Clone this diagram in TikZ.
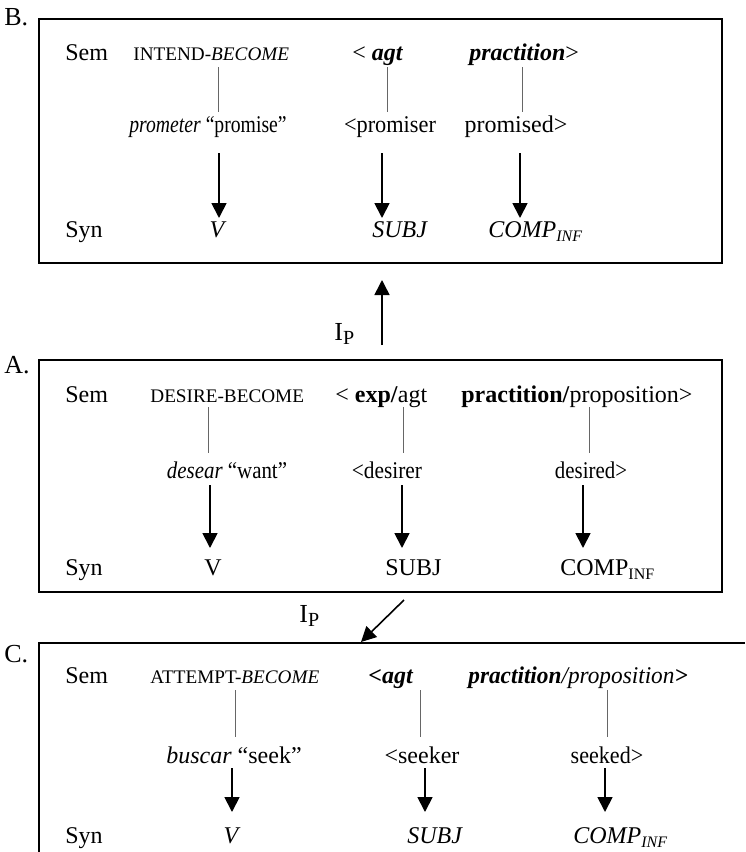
\documentclass[tikz,border=0pt]{standalone}
\usepackage{fontspec}
\setmainfont{Liberation Serif}
\usetikzlibrary{arrows.meta}
% reduced capitals standing in for small caps
\newcommand\smcap[1]{{\fontsize{9.6pt}{11pt}\selectfont #1}}
% lowered, smaller subscript text
\newcommand\lowsub[1]{\raisebox{-0.4ex}{\fontsize{8pt}{9pt}\selectfont #1}}
% horizontally condensed text
\newcommand\narrow[2]{\scalebox{#1}[1]{#2}}
\begin{document}
\begin{tikzpicture}[x=0.5pt,y=-0.5pt,
  txt/.style={inner sep=0pt, anchor=base west, font=\fontsize{12pt}{14pt}\selectfont},
  ctxt/.style={txt, anchor=base},
  lbl/.style={txt, font=\fontsize{13pt}{15pt}\selectfont},
  iplbl/.style={txt, font=\fontsize{13pt}{15pt}\selectfont},
  frame/.style={line width=1pt},
  link/.style={line width=0.5pt, draw=black!60},
  dep/.style={line width=0.9pt, -{Triangle[length=7.5pt,width=7.5pt]}},
  ip/.style={line width=0.8pt, -{Triangle[length=7.5pt,width=7.5pt]}},
]
\useasboundingbox (0,0) rectangle (745,852);

% ---------- frames ----------
\draw[frame] (39,19) rectangle (722,263);
\draw[frame] (39,360) rectangle (722,592);
\draw[frame] (745,643) -- (39,643) -- (39,852);

\node[lbl] (labB) at (4,25) {B.};
\node[lbl] (labA) at (4,373) {A.};
\node[lbl] (labC) at (4,662) {C.};

% ---------- box B ----------
\node[txt] (semB) at (65,60) {Sem};
\node[txt] (synB) at (65,237) {Syn};
\node[txt] (bS1) at (133,60) {\smcap{INTEND-\textit{BECOME}}};
\node[txt] (bS2) at (352,60) {< \textbf{\textit{agt}}};
\node[txt] (bS3) at (469,60) {\textbf{\textit{practition}}>};
\node[ctxt] (bM1) at (208,132) {\narrow{0.82}{\textit{prometer} “promise”}};
\node[ctxt] (bM2) at (390,132) {\narrow{0.93}{<promiser}};
\node[ctxt] (bM3) at (516,132) {promised>};
\node[ctxt] (bY1) at (218,237) {\textit{V}};
\node[txt] (bY2) at (372,237) {\textit{SUBJ}};
\node[txt] (bY3) at (488,237) {\textit{COMP\lowsub{INF}}};

\coordinate (bl1a) at (218,67);  \coordinate (bl1b) at (218,112);
\coordinate (bl2a) at (387,67);  \coordinate (bl2b) at (387,112);
\coordinate (bl3a) at (522,67);  \coordinate (bl3b) at (522,112);
\coordinate (ba1a) at (219,153); \coordinate (ba1b) at (219,218);
\coordinate (ba2a) at (382,153); \coordinate (ba2b) at (382,218);
\coordinate (ba3a) at (520,153); \coordinate (ba3b) at (520,218);
\draw[link] (bl1a) -- (bl1b);
\draw[link] (bl2a) -- (bl2b);
\draw[link] (bl3a) -- (bl3b);
\draw[dep] (ba1a) -- (ba1b);
\draw[dep] (ba2a) -- (ba2b);
\draw[dep] (ba3a) -- (ba3b);

% ---------- link A -> B ----------
\coordinate (upFrom) at (382,345);
\coordinate (upTo) at (382,280);
\draw[ip] (upFrom) -- (upTo);
\node[iplbl] (ipAB) at (334,340) {I\lowsub{\fontsize{10pt}{11pt}\selectfont P}};

% ---------- box A ----------
\node[txt] (semA) at (65,402) {Sem};
\node[txt] (synA) at (65,575) {Syn};
\node[txt] (aS1) at (150,402) {\smcap{DESIRE-BECOME}};
\node[txt] (aS2) at (335,402) {< \textbf{exp/}agt};
\node[txt] (aS3) at (461,402) {\textbf{practition/}proposition>};
\node[ctxt] (aM1) at (227,478) {\narrow{0.87}{\textit{desear} “want”}};
\node[ctxt] (aM2) at (387,478) {\narrow{0.89}{<desirer}};
\node[ctxt] (aM3) at (591,478) {\narrow{0.87}{desired>}};
\node[ctxt] (aY1) at (213,575) {V};
\node[txt] (aY2) at (385,575) {SUBJ};
\node[txt] (aY3) at (560,575) {COMP\lowsub{INF}};

\coordinate (al1a) at (208,407); \coordinate (al1b) at (208,453);
\coordinate (al2a) at (403,407); \coordinate (al2b) at (403,453);
\coordinate (al3a) at (589,407); \coordinate (al3b) at (589,453);
\coordinate (aa1a) at (210,485); \coordinate (aa1b) at (210,548);
\coordinate (aa2a) at (402,485); \coordinate (aa2b) at (402,548);
\coordinate (aa3a) at (583,485); \coordinate (aa3b) at (583,548);
\draw[link] (al1a) -- (al1b);
\draw[link] (al2a) -- (al2b);
\draw[link] (al3a) -- (al3b);
\draw[dep] (aa1a) -- (aa1b);
\draw[dep] (aa2a) -- (aa2b);
\draw[dep] (aa3a) -- (aa3b);

% ---------- link A -> C ----------
\coordinate (dnFrom) at (404,600);
\coordinate (dnTo) at (361,642);
\draw[ip] (dnFrom) -- (dnTo);
\node[iplbl] (ipAC) at (299,622) {I\lowsub{\fontsize{10pt}{11pt}\selectfont P}};

% ---------- box C ----------
\node[txt] (semC) at (65,683) {Sem};
\node[txt] (synC) at (65,843) {Syn};
\node[txt] (cS1) at (150,683) {\smcap{ATTEMPT-\textit{BECOME}}};
\node[txt] (cS2) at (368,683) {\textbf{\textit{<agt}}};
\node[txt] (cS3) at (468,683) {\narrow{0.97}{\textbf{\textit{practition}}\textit{/proposition}\textbf{\textit{>}}}};
\node[ctxt] (cM1) at (234,763) {\textit{buscar} “seek”};
\node[ctxt] (cM2) at (422,763) {<seeker};
\node[ctxt] (cM3) at (607,763) {\narrow{0.92}{seeked>}};
\node[ctxt] (cY1) at (232,843) {\textit{V}};
\node[txt] (cY2) at (407,843) {\textit{SUBJ}};
\node[txt] (cY3) at (573,843) {\textit{COMP\lowsub{INF}}};

\coordinate (cl1a) at (235,690); \coordinate (cl1b) at (235,737);
\coordinate (cl2a) at (420,690); \coordinate (cl2b) at (420,737);
\coordinate (cl3a) at (607,690); \coordinate (cl3b) at (607,737);
\coordinate (ca1a) at (232,768); \coordinate (ca1b) at (232,812);
\coordinate (ca2a) at (425,768); \coordinate (ca2b) at (425,812);
\coordinate (ca3a) at (605,768); \coordinate (ca3b) at (605,812);
\draw[link] (cl1a) -- (cl1b);
\draw[link] (cl2a) -- (cl2b);
\draw[link] (cl3a) -- (cl3b);
\draw[dep] (ca1a) -- (ca1b);
\draw[dep] (ca2a) -- (ca2b);
\draw[dep] (ca3a) -- (ca3b);
\end{tikzpicture}
\end{document}
